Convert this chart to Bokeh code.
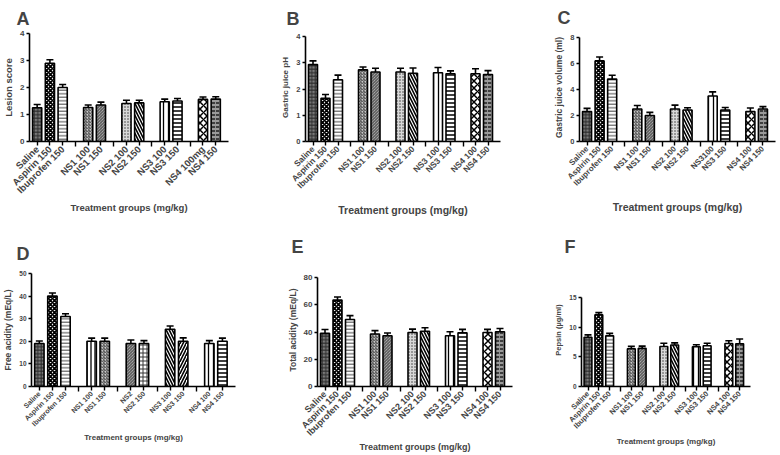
import math
from bokeh.plotting import figure
from bokeh.models import ColumnDataSource, FixedTicker, Whisker, TeeHead, Title
from bokeh.layouts import column, row
from bokeh.embed import file_html
from bokeh.resources import INLINE

# ---------------- data ----------------
group_sizes = [3, 2, 2, 2, 2]

labels_std = ["Saline", "Aspirin 150", "Ibuprofen 150", "NS1 100", "NS1 150",
              "NS2 100", "NS2 150", "NS3 100", "NS3 150", "NS4 100", "NS4 150"]
labels_a = ["Saline", "Aspirin 150", "Ibuprofen 150", "NS1 100", "NS1 150",
            "NS2 100", "NS2 150", "NS3 100", "NS3 150", "NS4 100mg", "NS4 150"]
labels_c = ["Saline", "Aspirin 150", "Ibuprofen 150", "NS1 100", "NS1 150",
            "NS2 100", "NS2 150", "NS3100", "NS3 150", "NS4 100", "NS4 150"]
labels_d = ["Saline", "Aspirin 150", "Ibuprofen 150", "NS1 100", "NS1 150",
            "NS2", "NS2 150", "NS3 100", "NS3 150", "NS4 100", "NS4 150"]

lesion_mean = [1.25, 2.9, 2.0, 1.26, 1.35, 1.41, 1.43, 1.47, 1.5, 1.56, 1.57]
lesion_sem = [0.12, 0.13, 0.11, 0.09, 0.11, 0.12, 0.10, 0.10, 0.09, 0.09, 0.09]

ph_mean = [2.93, 1.65, 2.35, 2.73, 2.65, 2.65, 2.6, 2.62, 2.58, 2.58, 2.55]
ph_sem = [0.14, 0.14, 0.18, 0.11, 0.14, 0.14, 0.2, 0.2, 0.11, 0.19, 0.15]

vol_mean = [2.3, 6.2, 4.8, 2.5, 2.0, 2.5, 2.42, 3.5, 2.42, 2.3, 2.5]
vol_sem = [0.25, 0.3, 0.3, 0.27, 0.24, 0.3, 0.18, 0.32, 0.2, 0.28, 0.18]

free_mean = [19.0, 40.0, 31.0, 20.0, 20.0, 19.0, 19.0, 25.3, 20.0, 19.0, 20.0]
free_sem = [1.1, 1.4, 1.2, 1.4, 1.4, 1.6, 1.3, 1.5, 1.5, 1.3, 1.4]

total_mean = [39.0, 63.4, 49.2, 38.5, 37.3, 39.6, 40.5, 37.2, 39.4, 39.6, 40.2]
total_sem = [2.8, 2.3, 2.8, 2.5, 2.0, 2.5, 2.6, 3.0, 2.5, 2.3, 2.4]

pepsin_mean = [8.3, 12.1, 8.55, 6.37, 6.43, 6.75, 7.0, 6.7, 6.87, 7.25, 7.2]
pepsin_sem = [0.4, 0.35, 0.4, 0.4, 0.38, 0.55, 0.35, 0.33, 0.43, 0.45, 0.8]

XLABEL = "Treatment groups (mg/kg)"

# ---------------- styles ----------------
FONT = "Liberation Sans"
# (fill, hatch pattern, hatch scale, hatch colour, hatch weight)
style_main = [
    ("#7a7a7a", "cross", 3.5, "#2a2a2a", 1.0),
    ("#ffffff", "diagonal_cross", 4.0, "#000000", 1.8),
    ("#ffffff", "horizontal_line", 3.5, "#444444", 1.0),
    ("#c8c8c8", "right_diagonal_line", 3.0, "#444444", 1.0),
    ("#c8c8c8", "left_diagonal_line", 3.0, "#444444", 1.0),
    ("#d8d8d8", "dot", 3.0, "#333333", 1.0),
    ("#ffffff", "left_diagonal_line", 6.0, "#000000", 1.6),
    ("#ffffff", "vertical_line", 5.0, "#000000", 1.3),
    ("#ffffff", "horizontal_line", 4.0, "#000000", 1.5),
    ("#ffffff", "diagonal_cross", 7.0, "#000000", 1.5),
    ("#9a9a9a", "horizontal_dash", 4.0, "#000000", 1.2),
]
style_d = [
    ("#7a7a7a", "cross", 3.5, "#2a2a2a", 1.0),
    ("#ffffff", "diagonal_cross", 4.0, "#000000", 1.8),
    ("#ffffff", "horizontal_line", 3.5, "#444444", 1.0),
    ("#ffffff", "vertical_line", 4.0, "#000000", 1.3),
    ("#c8c8c8", "right_diagonal_line", 3.0, "#444444", 1.0),
    ("#c8c8c8", "left_diagonal_line", 3.0, "#444444", 1.0),
    ("#ffffff", "cross", 4.0, "#333333", 1.0),
    ("#ffffff", "left_diagonal_line", 6.0, "#000000", 1.6),
    ("#ffffff", "right_diagonal_line", 6.0, "#000000", 1.6),
    ("#ffffff", "vertical_line", 5.0, "#000000", 1.3),
    ("#ffffff", "horizontal_line", 4.0, "#000000", 1.5),
]

X0, X1 = -0.6, 15.0


def positions():
    xs, seps, pos = [], [], 0
    for gi, size in enumerate(group_sizes):
        for _ in range(size):
            xs.append(pos)
            pos += 1
        if gi < len(group_sizes) - 1:
            seps.append(pos)
        pos += 1
    return xs, seps


def panel(letter, ylabel, means, sems, labels, ymax, ystep, styles,
          w, h, bl, br, bt, bb, axis_top_px, t_align, t_off, t_stand, xl_stand,
          fs_xtick, fs_ytick, fs_ylab, fs_xlab):
    fh = h - bt - bb
    y_end = ymax * fh / axis_top_px

    xs, seps = positions()
    src = ColumnDataSource(dict(
        x=xs, top=means, upper=[m + s for m, s in zip(means, sems)],
        fill=[s[0] for s in styles], hatch=[s[1] for s in styles],
        hs=[s[2] for s in styles], hc=[s[3] for s in styles],
        hw=[s[4] for s in styles],
    ))
    p = figure(width=w, height=h, x_range=(X0, X1), y_range=(0, y_end),
               output_backend="svg", toolbar_location=None,
               min_border_left=bl, min_border_right=br,
               min_border_top=bt, min_border_bottom=bb)
    p.outline_line_color = None
    p.xgrid.visible = False
    p.ygrid.visible = False
    p.vbar(x="x", top="top", width=0.72, source=src, fill_color="fill",
           hatch_pattern="hatch", hatch_scale="hs", hatch_color="hc",
           hatch_weight="hw", line_color="black", line_width=1.6)
    wk = Whisker(base="x", upper="upper", lower="top", source=src,
                 dimension="height", line_color="black", line_width=1.6,
                 upper_head=TeeHead(size=7, line_width=1.6, line_color="black"),
                 lower_head=None, level="overlay")
    p.add_layout(wk)

    xa = p.xaxis[0]
    xa.ticker = FixedTicker(ticks=xs, minor_ticks=seps)
    xa.major_label_overrides = {x: lab for x, lab in zip(xs, labels)}
    xa.major_label_orientation = math.pi / 4
    xa.axis_line_width = 1.6
    xa.major_tick_line_width = 1.4
    xa.minor_tick_line_width = 1.4
    xa.major_tick_out = 4
    xa.major_tick_in = 0
    xa.minor_tick_out = 5
    xa.minor_tick_in = 0
    xa.major_label_text_font = FONT
    xa.major_label_text_font_style = "bold"
    xa.major_label_text_font_size = fs_xtick
    xa.major_label_standoff = 1
    xa.axis_label = XLABEL
    xa.axis_label_text_font = FONT
    xa.axis_label_text_font_style = "bold"
    xa.axis_label_text_font_size = fs_xlab
    xa.axis_label_standoff = xl_stand

    ya = p.yaxis[0]
    ya.ticker = FixedTicker(ticks=list(range(0, ymax + 1, ystep)))
    ya.bounds = (0, ymax)
    ya.minor_tick_line_color = None
    ya.axis_line_width = 1.6
    ya.major_tick_line_width = 1.4
    ya.major_tick_out = 3
    ya.major_tick_in = 0
    ya.major_label_text_font = FONT
    ya.major_label_text_font_style = "bold"
    ya.major_label_text_font_size = fs_ytick
    ya.major_label_standoff = 2
    ya.axis_label = ylabel
    ya.axis_label_text_font = FONT
    ya.axis_label_text_font_style = "bold"
    ya.axis_label_text_font_size = fs_ylab
    ya.axis_label_standoff = 3

    p.add_layout(Title(text=letter, text_font=FONT, text_font_style="bold",
                       text_font_size="18px", align=t_align, offset=t_off,
                       standoff=t_stand), "above")
    return p


pa = panel("A", "Lesion score", lesion_mean, lesion_sem, labels_a, 4, 1, style_main,
           260, 218, 27, 32, 33, 77, 108, "right", 199, 10, 0,
           "9.5px", "8px", "9.5px", "9.5px")
pb = panel("B", "Gastric juice pH", ph_mean, ph_sem, labels_std, 4, 1, style_main,
           260, 218, 45, 20, 33, 77, 105, "left", -19, 10, 7,
           "8.5px", "7.5px", "8px", "10.5px")
pc = panel("C", "Gastric juice volume (ml)", vol_mean, vol_sem, labels_c, 8, 2, style_main,
           260, 218, 59, 5, 33, 77, 104, "left", -22, 11, 7,
           "8px", "7.5px", "8.5px", "10.5px")
pd_ = panel("D", "Free acidity (mEq/L)", free_mean, free_sem, labels_d, 50, 10, style_d,
            260, 237, 30, 25, 55, 69, 113, "right", 206, 20, 0,
            "7px", "6.5px", "8.5px", "8px")
pe = panel("E", "Total acidity (mEq/L)", total_mean, total_sem, labels_std, 80, 20, style_main,
           260, 237, 57, 8, 55, 69, 109, "left", -26, 33, -2,
           "9px", "8px", "8.5px", "9px")
pf = panel("F", "Pepsin (µg/ml)", pepsin_mean, pepsin_sem, labels_std, 15, 5, style_main,
           260, 237, 61, 30, 55, 69, 89, "left", -17, 33, 0,
           "7.5px", "6.5px", "7.5px", "8px")

layout = column(row(pa, pb, pc), row(pd_, pe, pf))
open("out.html", "w").write(file_html(layout, INLINE))
